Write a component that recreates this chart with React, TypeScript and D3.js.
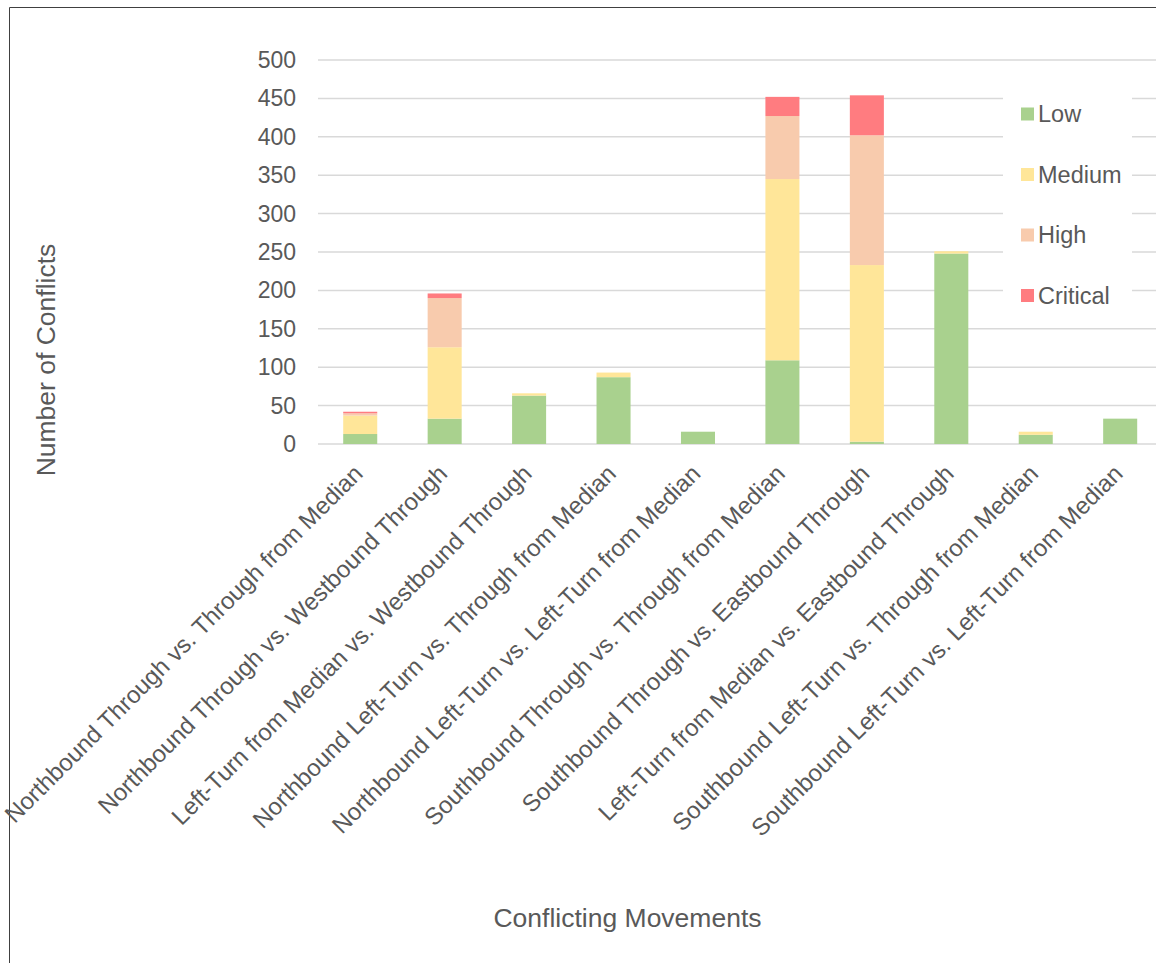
import React from "react";
import * as d3 from "d3";

const categories = [
  "Northbound Through vs. Through from Median",
  "Northbound Through vs. Westbound Through",
  "Left-Turn from Median vs. Westbound Through",
  "Northbound Left-Turn vs. Through from Median",
  "Northbound Left-Turn vs. Left-Turn from Median",
  "Southbound Through vs. Through from Median",
  "Southbound Through vs. Eastbound Through",
  "Left-Turn from Median vs. Eastbound Through",
  "Southbound Left-Turn vs. Through from Median",
  "Southbound Left-Turn vs. Left-Turn from Median",
];
const low = [13, 33, 63, 87, 16, 109, 3, 248, 12, 33];
const medium = [24, 93, 3, 6, 0, 236, 230, 3, 4, 0];
const high = [3, 64, 0, 0, 0, 82, 169, 0, 0, 0];
const critical = [2, 6, 0, 0, 0, 25, 52, 0, 0, 0];
const seriesNames = ["Low", "Medium", "High", "Critical"];
const seriesColors = ["#A9D18E", "#FFE699", "#F8CBAD", "#FF7C80"];
const yTicks = [0, 50, 100, 150, 200, 250, 300, 350, 400, 450, 500];

const W = 1156;
const H = 963;
const TEXT = "#595959";
const FONT = "Liberation Sans, Arial, sans-serif";

export default function App() {
  const rows = categories.map((c, i) => ({
    cat: c,
    Low: low[i],
    Medium: medium[i],
    High: high[i],
    Critical: critical[i],
  }));
  const stacked = d3.stack<any>().keys(seriesNames)(rows);
  const x = d3
    .scaleBand()
    .domain(categories)
    .range([318, 1162.4])
    .paddingInner(0.597)
    .paddingOuter(0.2985);
  const y = d3.scaleLinear().domain([0, 500]).range([444, 60]);

  return (
    <svg
      width={W}
      height={H}
      style={{ position: "absolute", left: 0, top: 0, background: "#fff" }}
      fontFamily={FONT}
    >
      <rect x={0} y={0} width={W} height={H} fill="#fff" />
      <line x1={9.5} y1={7.5} x2={W} y2={7.5} stroke="#404040" strokeWidth={1} />
      <line x1={9.5} y1={7.5} x2={9.5} y2={H} stroke="#404040" strokeWidth={1} />
      {yTicks.map((t) => (
        <g key={t}>
          <line x1={318} x2={W} y1={y(t)} y2={y(t)} stroke="#D9D9D9" strokeWidth={1.5} />
          <text
            x={296}
            y={y(t)}
            dy="0.35em"
            textAnchor="end"
            fontSize={23}
            fill={TEXT}
          >
            {t}
          </text>
        </g>
      ))}
      {stacked.map((s, si) => (
        <g key={s.key} fill={seriesColors[si]}>
          {s.map((d, i) =>
            d[1] - d[0] > 0 ? (
              <rect
                key={i}
                x={x(categories[i])}
                width={x.bandwidth()}
                y={y(d[1])}
                height={y(d[0]) - y(d[1])}
              />
            ) : null
          )}
        </g>
      ))}
      {categories.map((c) => {
        const cx = (x(c) as number) + x.bandwidth() / 2 + 4;
        const cy = 475;
        return (
          <text
            key={c}
            transform={`translate(${cx},${cy}) rotate(-45)`}
            textAnchor="end"
            fontSize={24}
            fill={TEXT}
          >
            {c}
          </text>
        );
      })}
      <rect x={1003} y={80} width={129} height={236} fill="#fff" />
      {seriesNames.map((n, i) => (
        <g key={n} transform={`translate(1021,${114 + i * 60.5})`}>
          <rect x={0} y={-6.5} width={13} height={13} fill={seriesColors[i]} />
          <text x={17} y={0} dy="0.35em" fontSize={23.5} fill={TEXT}>
            {n}
          </text>
        </g>
      ))}
      <text
        transform={`translate(55,360) rotate(-90)`}
        textAnchor="middle"
        fontSize={26.5}
        fill={TEXT}
      >
        Number of Conflicts
      </text>
      <text x={627.5} y={927} textAnchor="middle" fontSize={26.5} fill={TEXT}>
        Conflicting Movements
      </text>
    </svg>
  );
}
